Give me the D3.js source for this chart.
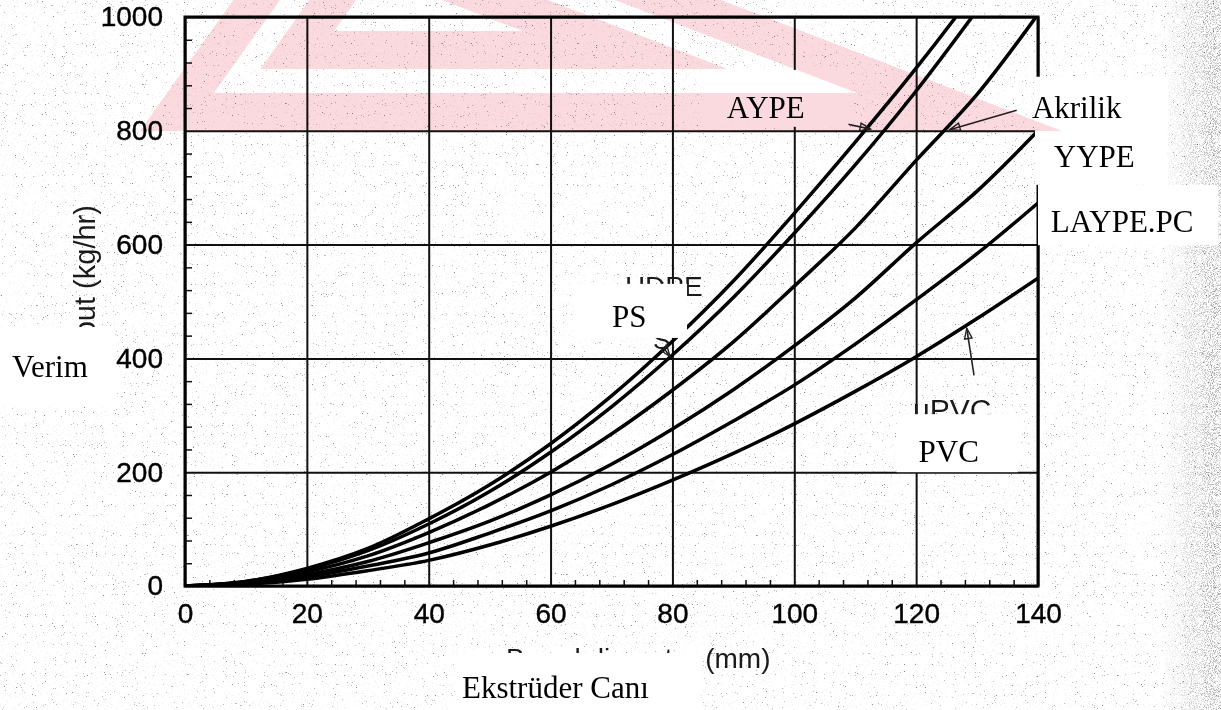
<!DOCTYPE html>
<html>
<head>
<meta charset="utf-8">
<title>Verim - Ekstrüder Capı</title>
<script src="https://d3js.org/d3.v7.min.js"></script>
<style>
  body { margin: 0; background: #fff; }
  svg { display: block; }
  .tick text { font-family: "Liberation Sans", Arial, sans-serif; font-size: 28px; fill: #000; stroke: #000; stroke-width: 0.4px; }
  .lbl { font-family: "Liberation Serif", "Times New Roman", serif; font-size: 31px; fill: #000; }
  .old { font-family: "Liberation Sans", Arial, sans-serif; fill: #1a1a1a; }
</style>
</head>
<body>
<div id="chart"></div>
<script>
// vida çapı (mm) ve verim (kg/hr)
var diameter = [0, 10, 20, 30, 40, 50, 60, 70, 80, 90, 100, 110, 120, 130, 140];
var seriesNames = ["AYPE", "AYPE-2", "Akrilik", "YYPE", "LAYPE.PC", "PVC"];
var aype    = [0, 8, 31, 66, 118, 178, 250, 334, 430, 536, 655, 780, 910, 1050, 1200];
var aype2   = [0, 8, 29, 62, 109, 166, 235, 315, 406, 507, 620, 740, 870, 1012, 1160];
var akrilik = [0, 7, 25, 53, 94, 143, 200, 267, 344, 429, 527, 629, 748, 864, 1005];
var yype    = [0, 5, 20, 43, 76, 114, 160, 214, 276, 345, 422, 506, 603, 694, 800];
var laype   = [0, 4, 16, 35, 58, 93, 132, 178, 231, 290, 353, 425, 503, 584, 673];
var pvc     = [0, 3, 12, 27, 45, 72, 105, 143, 186, 233, 285, 342, 403, 470, 541];
var allSeries = [aype, aype2, akrilik, yype, laype, pvc];

var xTicks = [0, 20, 40, 60, 80, 100, 120, 140];
var yTicks = [0, 200, 400, 600, 800, 1000];

var W = 1221, H = 710;
var margin = { top: 17, right: 183, bottom: 124, left: 185 };
var width = W - margin.left - margin.right;
var height = H - margin.top - margin.bottom;

var svg = d3.select("#chart").append("svg")
  .attr("width", W)
  .attr("height", H);

var defs = svg.append("defs");

// taranmış kağıt lekeleri
function speckle(id, freq, seed, table) {
  var f = defs.append("filter").attr("id", id)
    .attr("x", 0).attr("y", 0).attr("width", "100%").attr("height", "100%");
  f.append("feTurbulence").attr("type", "fractalNoise").attr("baseFrequency", freq)
    .attr("numOctaves", 2).attr("seed", seed).attr("result", "n");
  f.append("feColorMatrix").attr("in", "n").attr("type", "matrix")
    .attr("values", "0 0 0 0 0  0 0 0 0 0  0 0 0 0 0  1 0 0 0 0").attr("result", "a");
  f.append("feComponentTransfer").attr("in", "a")
    .append("feFuncA").attr("type", "discrete").attr("tableValues", table);
}
speckle("speckle", 0.9, 7, "1 1 1 0.6 0.15 0 0 0 0 0 0 0 0 0 0 0");
speckle("speckle2", 0.95, 3, "1 1 1 1 0.9 0.6 0.3 0 0 0 0 0 0 0");

var grad = defs.append("linearGradient").attr("id", "edgeGrad")
  .attr("x1", 0).attr("x2", 1).attr("y1", 0).attr("y2", 0);
grad.append("stop").attr("offset", 0).attr("stop-color", "#fff").attr("stop-opacity", 0);
grad.append("stop").attr("offset", 1).attr("stop-color", "#fff").attr("stop-opacity", 0.8);
var mask = defs.append("mask").attr("id", "edgeMask");
mask.append("rect").attr("x", 1160).attr("y", 0).attr("width", 61).attr("height", H)
  .attr("fill", "url(#edgeGrad)");

defs.append("clipPath").attr("id", "plotClip")
  .append("rect").attr("width", width).attr("height", height);

svg.append("rect").attr("width", W).attr("height", H).attr("fill", "#fff");
svg.append("rect").attr("width", W).attr("height", H).attr("fill", "#000")
  .attr("filter", "url(#speckle)").attr("opacity", 0.45);
svg.append("rect").attr("width", W).attr("height", H).attr("fill", "#000")
  .attr("filter", "url(#speckle2)").attr("opacity", 0.45).attr("mask", "url(#edgeMask)");

var g = svg.append("g")
  .attr("transform", "translate(" + margin.left + "," + margin.top + ")");

var x = d3.scaleLinear().domain([0, 140]).range([0, width]);
var y = d3.scaleLinear().domain([0, 1000]).range([height, 0]);

// ızgara
g.append("g")
  .attr("transform", "translate(0," + height + ")")
  .call(d3.axisBottom(x).tickValues(xTicks).tickSize(-height).tickFormat(""))
  .call(function (s) { s.select(".domain").remove(); })
  .selectAll("line").attr("stroke", "#111").attr("stroke-width", 2);
g.append("g")
  .call(d3.axisLeft(y).tickValues(yTicks).tickSize(-width).tickFormat(""))
  .call(function (s) { s.select(".domain").remove(); })
  .selectAll("line").attr("stroke", "#111").attr("stroke-width", 2);

// küçük çentikler
g.append("g")
  .call(d3.axisRight(y).tickValues(d3.range(40, 1000, 40).filter(function (d) { return d % 200; }))
    .tickSize(7).tickFormat(""))
  .call(function (s) { s.select(".domain").remove(); })
  .selectAll("line").attr("stroke", "#111").attr("stroke-width", 1.5);
g.append("g")
  .attr("transform", "translate(0," + height + ")")
  .call(d3.axisTop(x).tickValues(d3.range(4, 140, 4).filter(function (d) { return d % 20; }))
    .tickSize(6).tickFormat(""))
  .call(function (s) { s.select(".domain").remove(); })
  .selectAll("line").attr("stroke", "#111").attr("stroke-width", 1.5);

g.append("rect").attr("width", width).attr("height", height)
  .attr("fill", "none").attr("stroke", "#000").attr("stroke-width", 3);

// eksen yazıları
g.append("g")
  .attr("transform", "translate(0," + height + ")")
  .call(d3.axisBottom(x).tickValues(xTicks).tickSize(0).tickPadding(17))
  .call(function (s) { s.select(".domain").remove(); });
g.append("g")
  .call(d3.axisLeft(y).tickValues(yTicks).tickSize(0).tickPadding(22).tickFormat(d3.format("d")))
  .call(function (s) { s.select(".domain").remove(); });

// eğriler
var line = d3.line()
  .x(function (d, i) { return x(diameter[i]); })
  .y(function (d) { return y(d); })
  .curve(d3.curveCatmullRom);

g.append("g").attr("clip-path", "url(#plotClip)")
  .selectAll("path")
  .data(allSeries)
  .enter().append("path")
  .attr("d", line)
  .attr("fill", "none")
  .attr("stroke", "#000")
  .attr("stroke-width", 3.5);

// eski İngilizce etiketler (kısmen örtülü)
g.append("text").attr("class", "old").attr("font-size", 28)
  .attr("x", x(72.2)).attr("y", y(510)).text("HDPE");
g.append("text").attr("class", "old").attr("font-size", 26)
  .attr("x", x(76.8)).attr("y", y(416)).text("S");
g.append("text").attr("class", "old").attr("font-size", 30)
  .attr("x", x(119.5)).attr("y", y(292)).text("uPVC");
svg.append("text").attr("class", "old").attr("font-size", 28)
  .attr("x", 506).attr("y", 668).text("Barrel diameter (mm)");
svg.append("text").attr("class", "old").attr("font-size", 29)
  .attr("transform", "translate(95,384) rotate(-90)").text("Output (kg/hr)");

// oklar
var arrows = [
  [[107.7, 814], [112.5, 803]],
  [[136.5, 836], [125.5, 802]],
  [[129.5, 370], [128.3, 453]],
  [[78.6, 418], [79.6, 403]]
];
g.selectAll(".arrow").data(arrows).enter().append("line")
  .attr("class", "arrow")
  .attr("x1", function (d) { return x(d[0][0]); }).attr("y1", function (d) { return y(d[0][1]); })
  .attr("x2", function (d) { return x(d[1][0]); }).attr("y2", function (d) { return y(d[1][1]); })
  .attr("stroke", "#222").attr("stroke-width", 1.6);
// ok uçları
g.selectAll(".head").data(arrows).enter().append("path")
  .attr("class", "head")
  .attr("d", function (d) {
    var x1 = x(d[0][0]), y1 = y(d[0][1]), x2 = x(d[1][0]), y2 = y(d[1][1]);
    var ang = Math.atan2(y2 - y1, x2 - x1), L = 11, s = 0.35;
    return "M" + (x2 - L * Math.cos(ang - s)) + "," + (y2 - L * Math.sin(ang - s)) +
      "L" + x2 + "," + y2 +
      "L" + (x2 - L * Math.cos(ang + s)) + "," + (y2 - L * Math.sin(ang + s)) + "Z";
  })
  .attr("fill", "none").attr("stroke", "#222").attr("stroke-width", 1.4);

// beyaz yapıştırma kutuları
var boxes = [
  [85.1, 907, 108.9, 807],
  [139.5, 895, 161.3, 705],
  [140.0, 705, 169.6, 599],
  [63.9, 531, 82.4, 436],
  [116.8, 302, 136.7, 200]
];
g.selectAll(".box").data(boxes).enter().append("rect")
  .attr("class", "box")
  .attr("x", function (d) { return x(d[0]); })
  .attr("y", function (d) { return y(d[1]); })
  .attr("width", function (d) { return x(d[2]) - x(d[0]); })
  .attr("height", function (d) { return y(d[3]) - y(d[1]); })
  .attr("fill", "#fff");
svg.append("rect").attr("x", 0).attr("y", 327).attr("width", 115).attr("height", 80).attr("fill", "#fff");
svg.append("rect").attr("x", 455).attr("y", 653).attr("width", 245).attr("height", 57).attr("fill", "#fff");

// Türkçe etiketler
var labels = [
  { t: "AYPE", x: 88.9, y: 822 },
  { t: "Akrilik", x: 139.0, y: 822 },
  { t: "YYPE", x: 142.6, y: 736 },
  { t: "LAYPE.PC", x: 142.1, y: 622 },
  { t: "PS", x: 70.1, y: 455 },
  { t: "PVC", x: 120.4, y: 218 }
];
g.selectAll(".lbl").data(labels).enter().append("text")
  .attr("class", "lbl")
  .attr("x", function (d) { return x(d.x); })
  .attr("y", function (d) { return y(d.y); })
  .text(function (d) { return d.t; });
svg.append("text").attr("class", "lbl").attr("x", 12).attr("y", 377).text("Verim");
svg.append("text").attr("class", "lbl").attr("x", 462).attr("y", 698).text("Ekstrüder Canı");

// kırmızı filigran
var wm = svg.append("g").style("mix-blend-mode", "multiply").attr("opacity", 0.5);
var tri = [[338, -147], [140, 131], [1062, 131]];
function inset(pts, d) {
  var a = Math.hypot(pts[1][0] - pts[2][0], pts[1][1] - pts[2][1]);
  var b = Math.hypot(pts[0][0] - pts[2][0], pts[0][1] - pts[2][1]);
  var c = Math.hypot(pts[0][0] - pts[1][0], pts[0][1] - pts[1][1]);
  var ix = (a * pts[0][0] + b * pts[1][0] + c * pts[2][0]) / (a + b + c);
  var iy = (a * pts[0][1] + b * pts[1][1] + c * pts[2][1]) / (a + b + c);
  var s = (a + b + c) / 2;
  var area = Math.abs((pts[1][0] - pts[0][0]) * (pts[2][1] - pts[0][1]) - (pts[2][0] - pts[0][0]) * (pts[1][1] - pts[0][1])) / 2;
  var r = area / s, k = (r - d) / r;
  return pts.map(function (p) { return [ix + k * (p[0] - ix), iy + k * (p[1] - iy)]; });
}
function triPath(p) { return "M" + p.map(function (q) { return q.join(","); }).join("L") + "Z"; }
[[0, 38], [62, 100]].forEach(function (b) {
  wm.append("path")
    .attr("d", triPath(inset(tri, b[0])) + triPath(inset(tri, b[1])))
    .attr("fill-rule", "evenodd")
    .attr("fill", "#f7b5c0");
});
</script>
</body>
</html>
